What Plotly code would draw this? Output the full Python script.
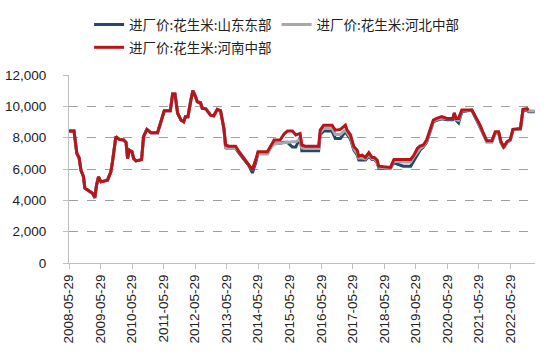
import plotly.graph_objects as go

dates = [
    "2008-05-29", "2008-07-26", "2008-08-28", "2008-09-24", "2008-10-14", "2008-11-13", "2008-11-29",
    "2009-01-18", "2009-02-25", "2009-03-25", "2009-04-13", "2009-05-06", "2009-06-03", "2009-08-18",
    "2009-09-26", "2009-10-15", "2009-11-23", "2010-01-01", "2010-02-20", "2010-03-21", "2010-04-08",
    "2010-04-28", "2010-05-29", "2010-06-17", "2010-07-14", "2010-09-17", "2010-10-10", "2010-11-18",
    "2011-01-04", "2011-03-21", "2011-04-29", "2011-06-07", "2011-08-16", "2011-09-12", "2011-10-09",
    "2011-11-09", "2011-12-19", "2012-01-18", "2012-02-07", "2012-03-07", "2012-04-07", "2012-05-03",
    "2012-06-04", "2012-06-23", "2012-08-01", "2012-08-20", "2012-09-28", "2012-11-24", "2013-01-01",
    "2013-02-10", "2013-03-20", "2013-04-28", "2013-05-18", "2013-06-25", "2013-09-11", "2013-10-20",
    "2013-12-17", "2014-02-13", "2014-03-24", "2014-05-01", "2014-05-28", "2014-09-14", "2014-10-23",
    "2014-12-01", "2015-02-08", "2015-03-26", "2015-05-04", "2015-07-01", "2015-08-09", "2015-09-28",
    "2015-10-18", "2015-11-26", "2016-04-30", "2016-05-18", "2016-06-27", "2016-10-02", "2016-11-09",
    "2017-01-07", "2017-03-06", "2017-03-26", "2017-05-04", "2017-06-12", "2017-07-20", "2017-08-08",
    "2017-09-16", "2017-10-24", "2017-12-02", "2018-01-09", "2018-02-05", "2018-03-09", "2018-03-28",
    "2018-08-10", "2018-09-19", "2019-01-05", "2019-04-01", "2019-05-09", "2019-06-17", "2019-07-18",
    "2019-08-25", "2019-10-03", "2019-11-11", "2019-12-20", "2020-01-28", "2020-03-27", "2020-05-24",
    "2020-08-02", "2020-08-18", "2020-09-10", "2020-10-07", "2020-11-14", "2021-03-10", "2021-04-18",
    "2021-06-14", "2021-07-23", "2021-08-31", "2021-10-28", "2021-12-07", "2022-01-15", "2022-02-11",
    "2022-03-14", "2022-04-21", "2022-05-30", "2022-06-29", "2022-09-24", "2022-10-24", "2022-12-09",
    "2022-12-29", "2023-03-08",
]

henan = [
    8420, 8420, 7000, 6700, 5930, 5500, 4780,
    4600, 4450, 4200, 4970, 5500, 5180, 5290,
    5820, 6460, 8060, 7890, 7850, 7700, 6670,
    7200, 7100, 6670, 6520, 6600, 8060, 8530,
    8310, 8310, 9020, 9720, 9720, 10790, 10790,
    9550, 9120, 9020, 9340, 9340, 10300, 11000,
    10610, 10300, 10190, 9870, 9850, 9440, 9400,
    9810, 9720, 8590, 7530, 7460, 7460, 7100,
    6670, 6250, 5950, 6570, 7100, 7100, 7460,
    7850, 7850, 8230, 8420, 8420, 8170, 8270,
    7530, 7460, 7460, 8480, 8800, 8800, 8480,
    8530, 8800, 8480, 8170, 7420, 7210, 6820,
    6880, 6740, 7040, 6740, 6740, 6570, 6180,
    6100, 6610, 6610, 6610, 6890, 7310, 7460,
    7530, 7850, 8480, 9120, 9230, 9340, 9230,
    9230, 9590, 9230, 9230, 9760, 9760, 9340,
    8800, 8270, 7800, 7800, 8380, 8380, 7740,
    7420, 7740, 7890, 8530, 8590, 9810, 9850,
    9760, None,
]

hebei = [
    8420, 8420, 7000, 6700, 5930, 5500, 4780,
    4600, 4450, 4200, 4970, 5500, 5180, 5290,
    5820, 6460, 8060, 7890, 7850, 7700, 6670,
    7200, 7100, 6670, 6520, 6600, 8060, 8530,
    8310, 8310, 9020, 9720, 9720, 10790, 10790,
    9550, 9120, 9020, 9340, 9340, 10300, 11000,
    10610, 10300, 10190, 9870, 9850, 9440, 9400,
    9810, 9720, 8590, 7350, 7310, 7310, 7100,
    6670, 6250, 5950, 6570, 6950, 6950, 7400,
    7600, 7650, 7700, 7740, 7740, 7740, 7900,
    7350, 7310, 7310, 8300, 8600, 8600, 8200,
    8200, 8500, 8300, 8000, 7300, 7000, 6700,
    6700, 6650, 6900, 6650, 6650, 6450, 6100,
    6050, 6500, 6450, 6450, 6800, 7100, 7300,
    7450, 7750, 8400, 9050, 9150, 9250, 9200,
    9200, 9500, 9150, 9100, 9700, 9760, 9340,
    8700, 8200, 7700, 7700, 8300, 8300, 7700,
    7400, 7700, 7850, 8500, 8550, 9800, 9800,
    9700, 9700,
]

shandong = [
    8420, 8420, 7000, 6700, 5930, 5500, 4780,
    4600, 4450, 4150, 4970, 5500, 5180, 5290,
    5820, 6460, 8060, 7890, 7850, 7700, 6670,
    7200, 7100, 6670, 6520, 6600, 8060, 8530,
    8310, 8310, 9020, 9720, 9720, 10790, 10790,
    9550, 9120, 9020, 9340, 9340, 10300, 11000,
    10610, 10300, 10250, 9870, 9850, 9440, 9400,
    9810, 9720, 8590, 7350, 7310, 7310, 7000,
    6600, 6200, 5750, 6400, 7000, 7000, 7400,
    7650, 7650, 7700, 7700, 7400, 7400, 8000,
    7160, 7160, 7160, 8200, 8420, 8420, 7950,
    7950, 8400, 8200, 7900, 7200, 6900, 6570,
    6570, 6570, 6800, 6600, 6600, 6400, 6050,
    6050, 6400, 6180, 6180, 6500, 6900, 7200,
    7400, 7700, 8350, 9000, 9100, 9200, 9150,
    9150, 9400, 9100, 8950, 9650, 9760, 9300,
    8700, 8200, 7750, 7750, 8300, 8300, 7700,
    7350, 7700, 7850, 8500, 8550, 9750, 9750,
    9650, 9650,
]

series_names = ["进厂价:花生米:山东东部", "进厂价:花生米:河北中部", "进厂价:花生米:河南中部"]
series_colors = ["#24466F", "#A8A8A8", "#B91419"]
series_legends = ["legend", "legend", "legend2"]

tick_dates = ["2008-05-29", "2009-05-29", "2010-05-29", "2011-05-29", "2012-05-29",
              "2013-05-29", "2014-05-29", "2015-05-29", "2016-05-29", "2017-05-29",
              "2018-05-29", "2019-05-29", "2020-05-29", "2021-05-29", "2022-05-29"]
y_ticks = [0, 2000, 4000, 6000, 8000, 10000, 12000]

fig = go.Figure()
for name, vals, col, lg in zip(series_names, [shandong, hebei, henan], series_colors, series_legends):
    fig.add_trace(go.Scatter(x=dates, y=vals, name=name, mode="lines",
                             line=dict(color=col, width=3), legend=lg))

legend_style = dict(
    orientation="h", xref="container", yref="container",
    xanchor="left", yanchor="top",
    font=dict(family="Noto Sans CJK SC", size=13.5, color="#222"),
    itemwidth=30, bgcolor="rgba(0,0,0,0)",
)

fig.update_layout(
    width=550, height=356,
    margin=dict(l=69, r=15, t=75, b=93, autoexpand=False),
    paper_bgcolor="white", plot_bgcolor="white",
    font=dict(family="Liberation Sans, Arial, sans-serif", size=13, color="#222"),
    showlegend=True,
    legend=dict(x=0.162, y=0.974, **legend_style),
    legend2=dict(x=0.162, y=0.91, **legend_style),
)
fig.update_xaxes(
    type="date", range=["2008-05-29", "2023-03-12"],
    tickvals=tick_dates, ticktext=tick_dates, tickangle=-90,
    showgrid=False, showline=True, linecolor="#BFBFBF", linewidth=1,
    ticks="outside", ticklen=5, tickcolor="#BFBFBF",
    tickfont=dict(size=13.5, color="#222"),
)
fig.update_yaxes(
    range=[0, 12000], tickvals=y_ticks, tickformat=",",
    showgrid=True, gridcolor="#A0A0A0", griddash="dash", gridwidth=1,
    showline=True, linecolor="#BFBFBF", linewidth=1,
    ticks="outside", ticklen=5, tickcolor="#BFBFBF", ticklabelstandoff=14,
    tickfont=dict(size=13.5, color="#222"), zeroline=False,
)

fig.write_html("out.html", config={"displayModeBar": False},
               post_script="document.body.style.margin='0';")
